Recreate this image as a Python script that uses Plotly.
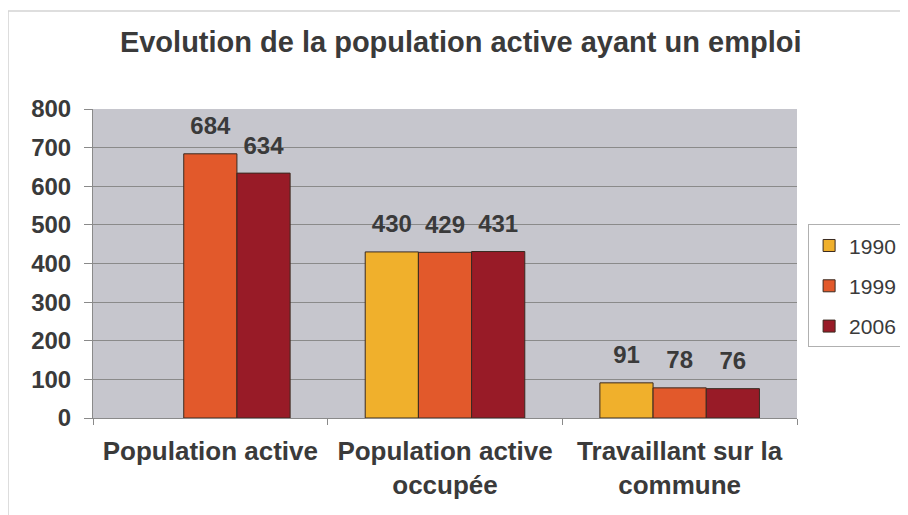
import plotly.graph_objects as go

categories = ["Population active", "Population active<br>occupée", "Travaillant sur la<br>commune"]
years = ["1990", "1999", "2006"]
values_1990 = [None, 430, 91]
values_1999 = [684, 429, 78]
values_2006 = [634, 431, 76]

colors = {"1990": "#f0b02c", "1999": "#e2592b", "2006": "#981b27"}
font = "Liberation Sans, Arial, sans-serif"
txt = "#3a3a3a"

fig = go.Figure()
for year, vals in zip(years, [values_1990, values_1999, values_2006]):
    fig.add_trace(go.Bar(
        x=categories, y=vals, name=year, legendgroup=year,
        marker=dict(color=colors[year], line=dict(color="#3a2a20", width=1)),
    ))
# value labels: invisible markers push the text above the bar tops
for year, vals in zip(years, [values_1990, values_1999, values_2006]):
    fig.add_trace(go.Scatter(
        x=categories, y=vals, mode="markers+text", showlegend=False, hoverinfo="skip",
        marker=dict(size=20, opacity=0),
        text=["" if v is None else f"<b>{v}</b>" for v in vals],
        textposition="top center", cliponaxis=False,
        textfont=dict(size=24, color=txt, family=font),
    ))

# light frame round the chart, cut by the picture edges
fig.add_shape(type="rect", xref="paper", yref="paper", x0=-0.1207, x1=1.3, y0=-0.5, y1=1.317,
              line=dict(color="#d4d4d4", width=1.5), layer="below")

# page body has an 8px margin, so the figure is drawn 8px smaller
fig.update_layout(
    width=900, height=507,
    margin=dict(l=85, r=111, t=101, b=97),
    paper_bgcolor="white", plot_bgcolor="#c6c6cd",
    barmode="group", bargap=0.32, bargroupgap=0,
    scattermode="group", scattergap=0.32,
    title=dict(text="<b>Evolution de la population active ayant un emploi</b>",
               x=0.503, xanchor="center", y=0.933, yanchor="middle",
               font=dict(size=29, color=txt, family=font)),
    legend=dict(xref="container", yref="container", x=0.889, xanchor="left", y=0.452, yanchor="middle",
                bgcolor="white", bordercolor="#b0b0b0", borderwidth=1,
                font=dict(size=21, color=txt, family=font),
                tracegroupgap=10),
    showlegend=True,
)
fig.update_yaxes(range=[0, 800], dtick=100, showgrid=True, gridcolor="#8a8a8a", gridwidth=1,
                 zeroline=False, showline=True, linecolor="#8a8a8a", ticks="outside",
                 ticklen=8, tickcolor="#8a8a8a", ticklabelstandoff=8, automargin=False,
                 tickfont=dict(size=24, color=txt, family=font), tickprefix="<b>", ticksuffix="</b>")
fig.update_xaxes(showline=True, linecolor="#8a8a8a", ticks="outside", tickson="boundaries",
                 ticklen=6, tickcolor="#8a8a8a", tickangle=0, ticklabelstandoff=10, automargin=False,
                 tickfont=dict(size=26, color=txt, family=font), tickprefix="<b>", ticksuffix="</b>")

fig.write_html("out.html")
